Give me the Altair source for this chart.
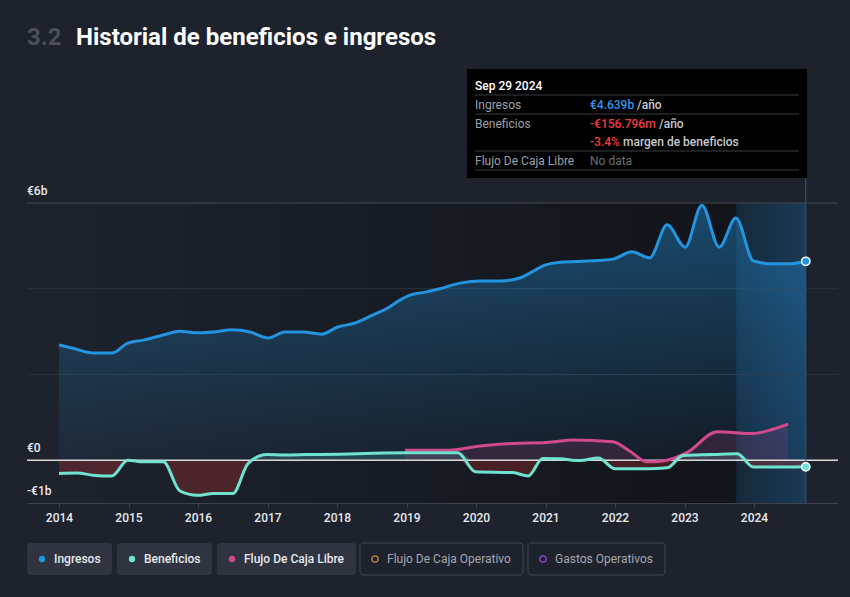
import altair as alt
import pandas as pd

# ---------------- data ----------------
rev_t = [2014.00, 2014.20, 2014.49, 2014.76, 2014.99, 2015.21, 2015.50, 2015.74, 2015.99,
         2016.22, 2016.49, 2016.75, 2017.01, 2017.25, 2017.51, 2017.78, 2018.00, 2018.26,
         2018.52, 2018.73, 2018.91, 2019.05, 2019.27, 2019.48, 2019.77, 2020.06, 2020.35,
         2020.63, 2020.78, 2020.99, 2021.21, 2021.68, 2021.97, 2022.24, 2022.50, 2022.75,
         2023.01, 2023.25, 2023.50, 2023.74, 2023.99, 2024.27, 2024.52, 2024.745]
rev_v = [2.69, 2.61, 2.50, 2.50, 2.73, 2.80, 2.92, 3.01, 2.97,
         2.99, 3.04, 2.99, 2.85, 2.99, 2.99, 2.94, 3.10, 3.20,
         3.39, 3.55, 3.74, 3.85, 3.92, 4.00, 4.13, 4.18, 4.18,
         4.25, 4.37, 4.55, 4.62, 4.65, 4.69, 4.86, 4.72, 5.49,
         4.97, 5.95, 4.97, 5.65, 4.65, 4.58, 4.58, 4.639]

earn_t = [2014.00, 2014.26, 2014.49, 2014.76, 2014.99, 2015.21, 2015.50, 2015.74, 2015.99,
          2016.22, 2016.50, 2016.72, 2016.99, 2017.25, 2017.57, 2018.04, 2018.52, 2019.01,
          2019.74, 2019.99, 2020.53, 2020.75, 2020.96, 2021.21, 2021.50, 2021.76, 2022.00,
          2022.46, 2022.75, 2022.98, 2023.41, 2023.76, 2023.99, 2024.37, 2024.745]
earn_v = [-0.31, -0.30, -0.35, -0.37, 0.00, -0.04, -0.04, -0.72, -0.82,
          -0.78, -0.78, -0.08, 0.13, 0.12, 0.13, 0.14, 0.16, 0.17,
          0.17, -0.27, -0.29, -0.37, 0.04, 0.03, -0.01, 0.05, -0.20,
          -0.20, -0.18, 0.11, 0.13, 0.15, -0.16, -0.16, -0.157]

fcf_t = [2018.98, 2019.58, 2020.06, 2020.53, 2021.02, 2021.40, 2021.97, 2022.22, 2022.46,
         2022.69, 2023.04, 2023.47, 2023.99, 2024.27, 2024.49]
fcf_v = [0.23, 0.23, 0.33, 0.39, 0.41, 0.47, 0.43, 0.20, -0.04,
         -0.02, 0.18, 0.66, 0.62, 0.72, 0.84]

year_ticks = list(range(2014, 2025))
grid_values = [2, 4, 6]
y_label_values = [6, 0, -1]
y_label_texts = ["€6b", "€0", "-€1b"]

legend_labels = ["Ingresos", "Beneficios", "Flujo De Caja Libre",
                 "Flujo De Caja Operativo", "Gastos Operativos"]

# ---------------- styling / layout ----------------
BG = "#1d222d"
C_REV = "#2394df"
C_EARN = "#6fe3d0"
C_FCF = "#d04a8d"
C_OCF = "#c8913b"
C_OPEX = "#9a4de0"
FONT = "Roboto"

W, H = 811, 300
PL, PT = 27, 203          # plot origin on the page


def px(x):
    return x - PL


def py(y):
    return y - PT


X_MIN = 2014 - 32 / 69.5
X_MAX = 2014 + 779 / 69.5

xs = alt.Scale(domain=[X_MIN, X_MAX], nice=False, zero=False)
ys = alt.Scale(domain=[-1, 6], nice=False, zero=False)
x_axis = alt.Axis(values=year_ticks, format="d", labelColor="#e8eaed", labelFontSize=12,
                  labelFont=FONT, labelFontWeight=500, domainColor="#3c414b",
                  tickColor="#3c414b", tickSize=5, labelPadding=4, grid=False,
                  title=None, labelFlush=False)


def X(field="t"):
    return alt.X(f"{field}:Q", scale=xs, axis=x_axis)


def Y(field="v"):
    return alt.Y(f"{field}:Q", scale=ys, axis=None)


def grad(stops, horizontal=False):
    return alt.Gradient(
        gradient="linear",
        x1=0, y1=0,
        x2=1 if horizontal else 0,
        y2=0 if horizontal else 1,
        stops=[alt.GradientStop(offset=o, color=c) for o, c in stops])


rev = pd.DataFrame({"t": rev_t, "v": rev_v, "z": 0.0})
earn = pd.DataFrame({"t": earn_t, "v": earn_v, "z": 0.0})
fcf = pd.DataFrame({"t": fcf_t, "v": fcf_v, "z": 0.0})
one = pd.DataFrame({"a": [0]})

last_t = rev_t[-1]

layers = []

# plot background gradient (data span)
bg_df = pd.DataFrame({"t": [rev_t[0]], "t2": [last_t]})
layers.append(alt.Chart(bg_df).mark_rect(
    fill=grad([(0, BG), (1, "#101318")], horizontal=True)
).encode(x=X("t"), x2="t2:Q", y=alt.value(0), y2=alt.value(H)))

# highlight band (last 12 months)
band_df = pd.DataFrame({"t": [last_t - 1.0], "t2": [last_t]})
layers.append(alt.Chart(band_df).mark_rect(
    fill=grad([(0, "#15283a"), (1, "#1a3a57")], horizontal=True)
).encode(x=X("t"), x2="t2:Q", y=alt.value(0), y2=alt.value(H)))

# gridlines
grid_df = pd.DataFrame({"v": grid_values})
layers.append(alt.Chart(grid_df).mark_rule(strokeWidth=1).encode(
    y=Y(), x=alt.value(0), x2=alt.value(W),
    color=alt.condition(alt.datum.v == 6, alt.value("#454a54"), alt.value("#2c313b"))))

# revenue area (vertical gradient)
layers.append(alt.Chart(rev).mark_area(
    interpolate="monotone",
    color=grad([(0, "rgba(35,148,223,0.42)"),
                (0.5, "rgba(35,148,223,0.22)"),
                (1, "rgba(35,148,223,0.06)")])
).encode(x=X(), y=Y(), y2="z:Q"))

# earnings areas (negative red, positive teal)
layers.append(alt.Chart(earn).transform_calculate(n="min(datum.v, 0)").mark_area(
    interpolate="monotone", color="#e53935", fillOpacity=0.25
).encode(x=X(), y=Y("n"), y2="z:Q"))
layers.append(alt.Chart(earn).transform_calculate(p="max(datum.v, 0)").mark_area(
    interpolate="monotone", color=C_EARN, fillOpacity=0.18
).encode(x=X(), y=Y("p"), y2="z:Q"))

# fcf area
layers.append(alt.Chart(fcf).mark_area(
    interpolate="monotone", color=C_FCF, fillOpacity=0.16
).encode(x=X(), y=Y(), y2="z:Q"))

# zero line
zero_df = pd.DataFrame({"v": [0.0]})
layers.append(alt.Chart(zero_df).mark_rule(color="#d9d9d9", strokeWidth=1.5).encode(
    y=Y(), x=alt.value(0), x2=alt.value(W)))

# lines
layers.append(alt.Chart(rev).mark_line(interpolate="monotone", color=C_REV, strokeWidth=3)
              .encode(x=X(), y=Y()))
layers.append(alt.Chart(fcf).mark_line(interpolate="monotone", color=C_FCF, strokeWidth=3)
              .encode(x=X(), y=Y()))
layers.append(alt.Chart(earn).mark_line(interpolate="monotone", color=C_EARN, strokeWidth=3)
              .encode(x=X(), y=Y()))

# tooltip vertical line
vl_df = pd.DataFrame({"t": [last_t]})
layers.append(alt.Chart(vl_df).mark_rule(color="#2a5b84", strokeWidth=1).encode(
    x=X(), y=alt.value(py(178)), y2=alt.value(H)))

# end points
end_rev = pd.DataFrame({"t": [rev_t[-1]], "v": [rev_v[-1]]})
end_earn = pd.DataFrame({"t": [earn_t[-1]], "v": [earn_v[-1]]})
layers.append(alt.Chart(end_rev).mark_point(filled=True, size=70, fill=C_REV, stroke="white",
                                            strokeWidth=1.5, opacity=1).encode(x=X(), y=Y()))
layers.append(alt.Chart(end_earn).mark_point(filled=True, size=70, fill=C_EARN, stroke="white",
                                             strokeWidth=1.5, opacity=1).encode(x=X(), y=Y()))

# y labels
ylab = pd.DataFrame({"v": y_label_values, "lab": y_label_texts})
layers.append(alt.Chart(ylab).mark_text(align="left", baseline="alphabetic", dy=-8,
                                        color="#e8eaed", fontSize=12, font=FONT,
                                        fontWeight=500).encode(
    y=Y(), x=alt.value(0), text="lab:N"))


def txt(s, x, y, color, size=12, weight=400):
    return alt.Chart(one).mark_text(text=s, align="left", baseline="middle", color=color,
                                    fontSize=size, font=FONT, fontWeight=weight).encode(
        x=alt.value(px(x)), y=alt.value(py(y)))


def box(x1, x2, y1, y2, fill, stroke=None, radius=0):
    kw = {"fill": fill}
    if stroke is not None:
        kw["stroke"] = stroke
        kw["strokeWidth"] = 1
    return alt.Chart(one).mark_rect(cornerRadius=radius, **kw).encode(
        x=alt.value(px(x1)), x2=alt.value(px(x2)), y=alt.value(py(y1)), y2=alt.value(py(y2)))


def hline(x1, x2, y, color):
    return alt.Chart(one).mark_rule(color=color, strokeWidth=1).encode(
        x=alt.value(px(x1)), x2=alt.value(px(x2)), y=alt.value(py(y)))


# tooltip box
layers.append(box(467, 807, 69, 178, "#000000"))
for yy in [95, 114, 151, 170]:
    layers.append(hline(475, 799, yy, "#3a3d42"))
GREY = "#9aa0a9"
layers.append(txt("Sep 29 2024", 475, 86, "#ffffff", 12, 500))
layers.append(txt("Ingresos", 475, 105, GREY))
layers.append(txt("€4.639b", 590, 105, "#2d95ea", 12, 500))
layers.append(txt("/año", 637, 105, "#c5c9d0", 12, 500))
layers.append(txt("Beneficios", 475, 124, GREY))
layers.append(txt("-€156.796m", 590, 124, "#f03c3c", 12, 500))
layers.append(txt("/año", 659, 124, "#c5c9d0", 12, 500))
layers.append(txt("-3.4%", 590, 142, "#f03c3c", 12, 500))
layers.append(txt("margen de beneficios", 623, 142, "#c5c9d0", 12, 500))
layers.append(txt("Flujo De Caja Libre", 475, 161, GREY))
layers.append(txt("No data", 590, 161, "#6b7079"))

# title
layers.append(txt("3.2", 27, 38, "#4a4f5a", 24, 700))
layers.append(txt("Historial de beneficios e ingresos", 76, 38, "#ffffff", 24, 700))

# legend
btn_x = [(27, 112), (117, 212), (217, 356), (360, 523), (528, 665)]
leg_colors = [C_REV, C_EARN, C_FCF, C_OCF, C_OPEX]
leg_filled = [True, True, True, False, False]
for (x1, x2), lab, col, filled in zip(btn_x, legend_labels, leg_colors, leg_filled):
    if filled:
        layers.append(box(x1, x2, 543, 575, "#2f3440", radius=3))
    else:
        layers.append(box(x1, x2, 543, 575, BG, stroke="#40454f", radius=3))
    dot = alt.Chart(one).mark_point(
        filled=filled, size=40, color=col, strokeWidth=1.3, opacity=1, shape="circle"
    ).encode(x=alt.value(px(x1 + 15)), y=alt.value(py(559)))
    layers.append(dot)
    layers.append(txt(lab, x1 + 27, 559, "#e6e8eb" if filled else "#a3a8b0", 12,
                      500 if filled else 400))

chart = alt.layer(*layers).properties(
    width=W, height=H,
    autosize=alt.AutoSizeParams(type="none"),
    padding={"left": PL, "top": PT, "right": 850 - PL - W, "bottom": 597 - PT - H},
    background=BG,
).configure_view(strokeWidth=0)

chart.save("out.html", embed_options={"renderer": "svg", "actions": False})
